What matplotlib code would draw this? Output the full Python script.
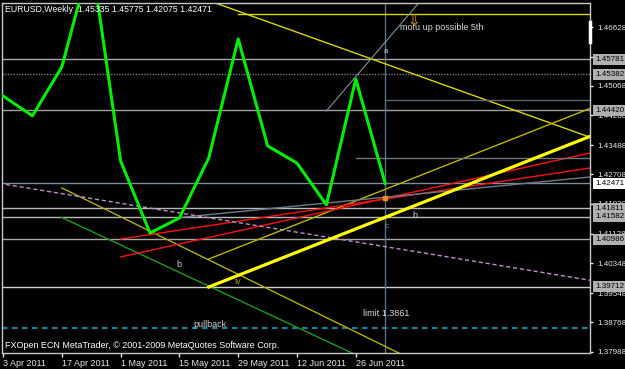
import matplotlib
matplotlib.use('Agg')
import matplotlib.pyplot as plt

plt.rcParams['font.family'] = ['Liberation Sans', 'DejaVu Sans']
plt.rcParams['font.size'] = 6.3

# weekly closes (line chart)
weeks = ['3 Apr 2011', '10 Apr 2011', '17 Apr 2011', '24 Apr 2011', '1 May 2011',
         '8 May 2011', '15 May 2011', '22 May 2011', '29 May 2011', '5 Jun 2011',
         '12 Jun 2011', '19 Jun 2011', '26 Jun 2011', '3 Jul 2011']
closes = [1.4480, 1.4427, 1.4557, 1.4850, 1.4307, 1.4115, 1.4155, 1.4315,
          1.4632, 1.4347, 1.4301, 1.4190, 1.4525, 1.42471]
label_weeks = [0, 2, 4, 6, 8, 10, 12]

# horizontal levels: (price, colour, style)
levels = [(1.45781, '#a8a8a8', '-'), (1.45382, '#7c7c7c', (0, (1, 1))), (1.44420, '#a0a0a0', '-'),
          (1.42471, '#7c8c9a', '-'), (1.41811, '#b8b8b8', '-'), (1.41582, '#b8b8b8', '-'),
          (1.40986, '#a8a8a8', '-'), (1.39712, '#d0d0d0', '-')]
limit_price = 1.3862

# trend lines: (week1, price1, week2, price2, colour, width, style)
trendlines = [
    (3, 1.4846, 21, 1.4341, '#d8d800', 1.0, '-'),
    (8, 1.4698, 21, 1.4698, '#d8d800', 1.0, '-'),
    (7, 1.40457, 21, 1.44787, '#b8b800', 1.0, '-'),
    (2, 1.42350, 14, 1.37747, '#b0b000', 1.0, '-'),
    (2, 1.41563, 13, 1.37541, '#1f9a1f', 1.0, '-'),
    (4, 1.40511, 21, 1.43459, '#ff1010', 1.0, '-'),
    (4, 1.40990, 21, 1.43003, '#ff1010', 1.0, '-'),
    (6, 1.41561, 21, 1.42721, '#6c7c8c', 1.0, '-'),
    (11, 1.44399, 15, 1.48063, '#8090a0', 0.8, '-'),
    (12, 1.43147, 21, 1.43147, '#6c747c', 1.0, '-'),
    (13, 1.44692, 21, 1.44692, '#5c646c', 1.0, '-'),
    (-1, 1.42583, 21, 1.39759, '#c090c8', 1.0, (0, (3, 2))),
]
thick_line = (7, 1.39712, 21, 1.44042)

y_ticks = [1.46628, 1.45848, 1.45068, 1.44288, 1.43488, 1.42708, 1.41928,
           1.41128, 1.40348, 1.39548, 1.38768, 1.37988]
boxed = [1.45781, 1.45382, 1.44420, 1.41811, 1.41582, 1.40986, 1.39712]
bid = 1.42471
week_low = 1.42075

fig = plt.figure(figsize=(6.25, 3.69), dpi=100, facecolor='black')
ax = fig.add_axes([2 / 625, 16 / 369, 588 / 625, 350.5 / 369])
ax.set_facecolor('black')
ax.set_xlim(-0.034, 19.966)
ax.set_ylim(1.37954, 1.47288)

for p, c, ls in levels:
    ax.axhline(p, color=c, lw=1, ls=ls, zorder=1)
ax.axhline(limit_price, color='#1a7ea4', lw=1.6, ls=(0, (2.5, 2)), zorder=1)
ax.axvline(13, color='#5c7282', lw=1, zorder=1)

for x1, p1, x2, p2, c, w, ls in trendlines:
    ax.plot([x1, x2], [p1, p2], color=c, lw=w, ls=ls, zorder=2)
ax.plot([thick_line[0], thick_line[2]], [thick_line[1], thick_line[3]],
        color='#ffff00', lw=2.3, zorder=4)

ax.plot(range(len(closes)), closes, color='#00ee00', lw=2.2, zorder=3)
ax.plot([13], [week_low], marker='s', ms=3, color='#e89020', zorder=5)

# labels on the chart
ax.text(13.5, 1.46609, 'mofu up possible 5th', color='#d8d8d8', va='center', fontsize=6.5)
ax.text(13.98, 1.4700, '\u21e9', color='#e0a000', ha='center', va='top', fontsize=11,
        family='DejaVu Sans')
ax.text(13.03, 1.45970, 'a', color='#d0d0d0', ha='center', va='center', fontsize=5.5)
ax.text(14.01, 1.41603, 'b', color='#d0d0d0', ha='center', va='center', fontsize=6.5)
ax.text(13.06, 1.41310, 'c', color='#909090', ha='center', va='center', fontsize=6)
ax.text(5.99, 1.40298, 'b', color='#d0d0d0', ha='center', va='center', fontsize=6.5)
ax.text(7.99, 1.39725, 'iv', color='#a8a020', ha='center', va='bottom', fontsize=6.5)
ax.text(7.04, 1.38700, 'pullback', color='#d0d0d0', ha='center', va='center', fontsize=6.5)
ax.text(13.03, 1.39019, 'limit 1.3861', color='#d8d8d8', ha='center', va='center', fontsize=6.5)

ax.text(0.005, 0.981, 'EURUSD,Weekly  1.45335 1.45775 1.42075 1.42471', color='white',
        transform=ax.transAxes, va='center', fontsize=6.3)
ax.text(0.005, 0.02, 'FXOpen ECN MetaTrader, \u00a9 2001-2009 MetaQuotes Software Corp.',
        color='white', transform=ax.transAxes, va='center', fontsize=6.5)

# axes / ticks
for s in ax.spines.values():
    s.set_color('#c8c8c8')
    s.set_linewidth(1)
ax.set_xticks(label_weeks, [weeks[i] for i in label_weeks])
for lab in ax.get_xticklabels():
    lab.set_horizontalalignment('left')
ax.tick_params(axis='x', colors='#e8e8e8', length=3, width=1, pad=1.5, labelsize=6.5)
ax.yaxis.tick_right()
ax.set_yticks(y_ticks, ['%.5f' % v for v in y_ticks])
ax.tick_params(axis='y', colors='#e8e8e8', length=2.5, width=1, pad=2.5, labelsize=5.8)
# chart-shift marker on the price scale
ax.plot([1, 1], [1.46769, 1.46236], color='white', lw=2.5, transform=ax.get_yaxis_transform(),
        clip_on=False, zorder=6)

ytr = ax.get_yaxis_transform()
for p in boxed:
    ax.text(1.0085, p, '%.5f' % p, transform=ytr, va='center', ha='left', color='black',
            fontsize=5.8, zorder=6,
            bbox=dict(boxstyle='square,pad=0.25', fc='#b0b0b0', ec='none'))
ax.text(1.0085, bid, '%.5f' % bid, transform=ytr, va='center', ha='left', color='black',
        fontsize=5.8, zorder=6, bbox=dict(boxstyle='square,pad=0.25', fc='white', ec='none'))

fig.savefig('out.png', dpi=100, facecolor='black')
